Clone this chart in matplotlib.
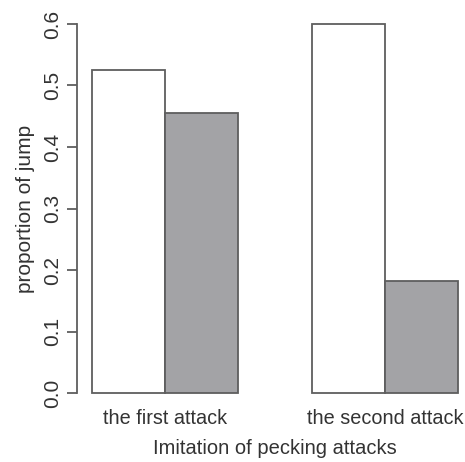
#!/usr/bin/env python3
import numpy as np
import matplotlib
matplotlib.use("Agg")
import matplotlib.pyplot as plt

GROUPS = ["the first attack", "the second attack"]
WHITE_VALUES = [0.525, 0.600]
GRAY_VALUES = [0.455, 0.182]
Y_TICKS = [0.0, 0.1, 0.2, 0.3, 0.4, 0.5, 0.6]

TEXT = "#333333"
EDGE = "#5e5e5e"


def main():
    plt.rcParams["font.family"] = ["Liberation Sans", "DejaVu Sans"]
    fig = plt.figure(figsize=(4.65, 4.62), dpi=100)
    # plot region runs past the right edge, like an R barplot cut off
    ax = fig.add_axes([0.1665, 0.1173, 0.85, 0.8628])

    # R barplot(beside=TRUE) layout: bars of width 1, one-bar gap between groups
    lefts = np.arange(len(GROUPS)) * 3 + 1
    ax.bar(lefts, WHITE_VALUES, width=1, align="edge",
           color="white", edgecolor=EDGE, linewidth=1.3)
    ax.bar(lefts + 1, GRAY_VALUES, width=1, align="edge",
           color="#a3a3a6", edgecolor=EDGE, linewidth=1.3)

    ax.set_xlim(0.8, 6.2)
    ax.set_ylim(-0.024, 0.624)

    for side in ["top", "right", "bottom"]:
        ax.spines[side].set_visible(False)
    ax.spines["left"].set_bounds(0, 0.6)
    ax.spines["left"].set_color(EDGE)
    ax.spines["left"].set_linewidth(1.3)

    ax.set_yticks(Y_TICKS)
    ax.set_yticklabels([f"{t:.1f}" for t in Y_TICKS], rotation=90, va="center")
    ax.tick_params(axis="y", length=7, width=1.3, color=EDGE, pad=4,
                   labelsize=15, labelcolor=TEXT)

    ax.set_xticks(lefts + 1)
    ax.set_xticklabels(GROUPS)
    ax.tick_params(axis="x", length=0, pad=1, labelsize=14.3, labelcolor=TEXT)

    ax.set_xlabel("Imitation of pecking attacks", fontsize=14.5, color=TEXT, labelpad=8)
    ax.set_ylabel("proportion of jump", fontsize=15, color=TEXT, labelpad=6)

    fig.savefig("out.png", dpi=100)


if __name__ == '__main__':
    main()
